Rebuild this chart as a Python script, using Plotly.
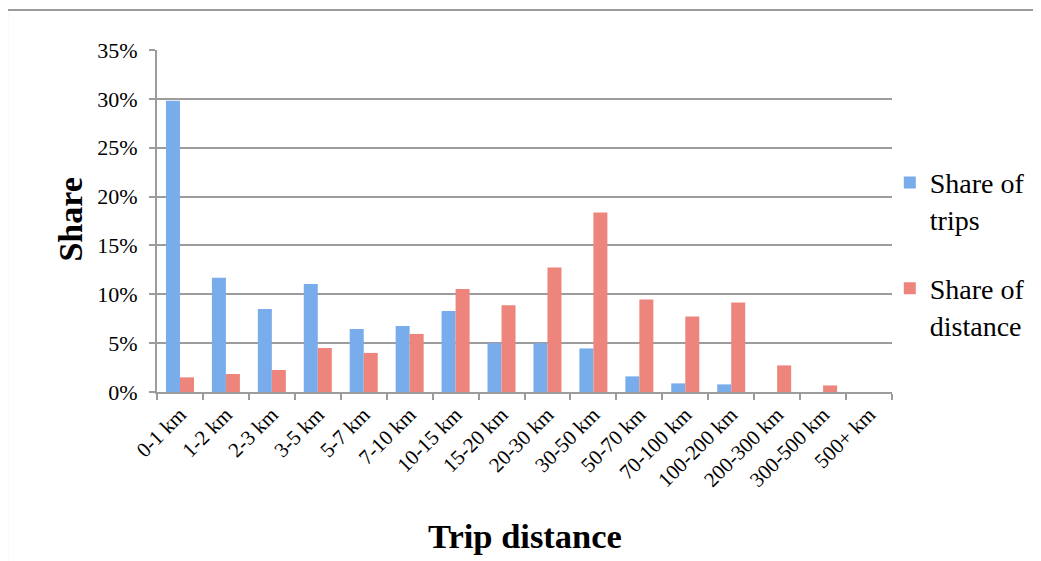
import plotly.graph_objects as go

categories = ["0-1 km", "1-2 km", "2-3 km", "3-5 km", "5-7 km", "7-10 km", "10-15 km",
              "15-20 km", "20-30 km", "30-50 km", "50-70 km", "70-100 km", "100-200 km",
              "200-300 km", "300-500 km", "500+ km"]
share_trips = [29.8, 11.7, 8.5, 11.05, 6.45, 6.75, 8.3, 5.0, 5.0, 4.46, 1.6, 0.88, 0.78, 0.0, 0.0, 0.0]
share_distance = [1.5, 1.84, 2.25, 4.5, 4.0, 5.94, 10.54, 8.88, 12.75, 18.37, 9.47, 7.73, 9.16, 2.72, 0.67, 0.0]
y_ticks = [0, 5, 10, 15, 20, 25, 30, 35]
y_tick_labels = ["0%", "5%", "10%", "15%", "20%", "25%", "30%", "35%"]

FONT = "Liberation Serif"
GRID = "#9c9c9c"

fig = go.Figure()
fig.add_trace(go.Bar(x=categories, y=share_trips, name="Share of<br>trips",
                     marker=dict(color="#79acea", line=dict(width=0)), legendgroup="a"))
fig.add_trace(go.Bar(x=categories, y=share_distance, name="Share of<br>distance",
                     marker=dict(color="#ee857d", line=dict(width=0)), legendgroup="b"))

fig.update_layout(
    width=1041, height=561,
    margin=dict(l=149, r=157, t=42, b=177),
    paper_bgcolor="white", plot_bgcolor="white",
    barmode="group", bargap=0.39, bargroupgap=0,
    font=dict(family=FONT, color="black"),
    showlegend=True,
    legend=dict(x=0.997, xanchor="left", y=0.685, yanchor="top",
                font=dict(family=FONT, size=28, color="black"),
                tracegroupgap=30, traceorder="grouped", valign="top",
                itemwidth=30, bgcolor="rgba(0,0,0,0)"),
    xaxis=dict(type="category", range=[-0.5, 15.5], tickangle=-45,
               tickfont=dict(family=FONT, size=21), showgrid=False,
               showline=True, linecolor=GRID, linewidth=2,
               ticks="outside", ticklen=6, tickcolor=GRID, tickwidth=2,
               tickson="boundaries"),
    yaxis=dict(range=[0, 35], tickvals=y_ticks, ticktext=y_tick_labels,
               tickfont=dict(family=FONT, size=22), showgrid=True,
               gridcolor=GRID, gridwidth=2, zeroline=False,
               showline=True, linecolor=GRID, linewidth=2,
               ticks="outside", ticklen=6, tickcolor=GRID, tickwidth=2,
               ticklabelstandoff=7),
    annotations=[
        dict(text="<b>Share</b>", xref="paper", yref="paper", x=-0.118, y=0.505,
             textangle=-90, showarrow=False, font=dict(family=FONT, size=34, color="black"),
             xanchor="center", yanchor="middle"),
        dict(text="<b>Trip distance</b>", xref="paper", yref="paper", x=0.5, y=-0.421,
             showarrow=False, font=dict(family=FONT, size=34.5, color="black"),
             xanchor="center", yanchor="middle"),
    ],
    shapes=[
        dict(type="line", xref="paper", yref="paper", x0=-0.204, x1=-0.204, y0=-0.7, y1=1.117,
             line=dict(color=GRID, width=2)),
        dict(type="line", xref="paper", yref="paper", x0=-0.204, x1=1.4, y0=1.117, y1=1.117,
             line=dict(color=GRID, width=2)),
    ],
)

fig.write_html("out.html")
